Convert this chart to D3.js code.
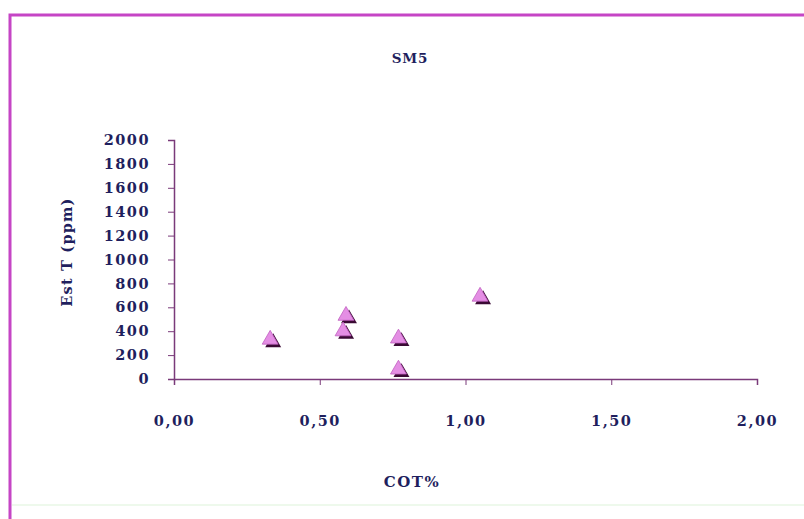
<!DOCTYPE html>
<html>
<head>
<meta charset="utf-8">
<script src="https://cdn.jsdelivr.net/npm/d3@7"></script>
<style>
  html, body { margin: 0; padding: 0; background: #ffffff; }
  svg { display: block; }
  text { font-family: "DejaVu Serif", "Liberation Serif", serif; font-weight: bold; fill: #1f1f5e; }
</style>
</head>
<body>
<svg id="chart" width="804" height="519"></svg>
<script>
// ---- data ----
const title = "SM5";
const xLabel = "COT%";
const yLabel = "Est T (ppm)";
const cot = [0.33, 0.58, 0.59, 0.77, 0.77, 1.05];
const estT = [330, 400, 530, 340, 80, 690];
const xTicks = [0, 0.5, 1.0, 1.5, 2.0];
const yTicks = [0, 200, 400, 600, 800, 1000, 1200, 1400, 1600, 1800, 2000];

const svg = d3.select("#chart");
const axisColor = "#7a3a7a";

// outer chart frame
svg.append("rect")
  .attr("x", 10).attr("y", 15)
  .attr("width", 820).attr("height", 530)
  .attr("fill", "#ffffff")
  .attr("stroke", "#c545c5")
  .attr("stroke-width", 3);
svg.append("line")
  .attr("x1", 12).attr("x2", 804).attr("y1", 505).attr("y2", 505)
  .attr("stroke", "#eef9ec").attr("stroke-width", 2);

const x = d3.scaleLinear().domain([0, 2]).range([174, 757]);
const y = d3.scaleLinear().domain([0, 2000]).range([379, 140]);

// title
svg.append("text")
  .attr("x", 410).attr("y", 63)
  .attr("text-anchor", "middle")
  .attr("font-size", 13.5)
  .attr("letter-spacing", 0.8)
  .text(title);

// axes
const fmt = d => d3.format(".2f")(d).replace(".", ",");
const xAxis = svg.append("g")
  .attr("transform", `translate(0,${y(0)})`)
  .call(d3.axisBottom(x).tickValues(xTicks).tickFormat(fmt).tickSize(6).tickPadding(31));
const yAxis = svg.append("g")
  .attr("transform", `translate(${x(0)},0)`)
  .call(d3.axisLeft(y).tickValues(yTicks).tickFormat(d3.format("d")).tickSize(6).tickPadding(18));

[xAxis, yAxis].forEach(g => {
  g.select(".domain").attr("stroke", axisColor).attr("stroke-width", 1.5);
  g.selectAll(".tick line").attr("stroke", axisColor).attr("stroke-width", 1);
  g.selectAll(".tick text")
    .attr("font-family", "'DejaVu Serif', serif")
    .attr("font-weight", "bold")
    .attr("font-size", 14.5)
    .attr("letter-spacing", 1.5)
    .attr("fill", "#1f1f5e");
});

// axis titles
svg.append("text")
  .attr("x", 412).attr("y", 487)
  .attr("text-anchor", "middle")
  .attr("font-size", 15)
  .attr("letter-spacing", 1.5)
  .text(xLabel);

svg.append("text")
  .attr("transform", `translate(72,252) rotate(-90)`)
  .attr("text-anchor", "middle")
  .attr("font-size", 14.5)
  .attr("letter-spacing", 1.2)
  .text(yLabel);

// markers: triangle with dark shadow
const tri = d3.symbol().type(d3.symbolTriangle).size(110);
const pts = cot.map((c, i) => ({ c, v: estT[i] }));
svg.append("g").selectAll("path.shadow")
  .data(pts).join("path")
  .attr("class", "shadow")
  .attr("d", tri)
  .attr("transform", d => `translate(${x(d.c) + 3},${y(d.v) + 3})`)
  .attr("fill", "#3a0a34");
svg.append("g").selectAll("path.pt")
  .data(pts).join("path")
  .attr("class", "pt")
  .attr("d", tri)
  .attr("transform", d => `translate(${x(d.c)},${y(d.v)})`)
  .attr("fill", "#e48ee4")
  .attr("stroke", "#c060c0")
  .attr("stroke-width", 0.8);
</script>
</body>
</html>
